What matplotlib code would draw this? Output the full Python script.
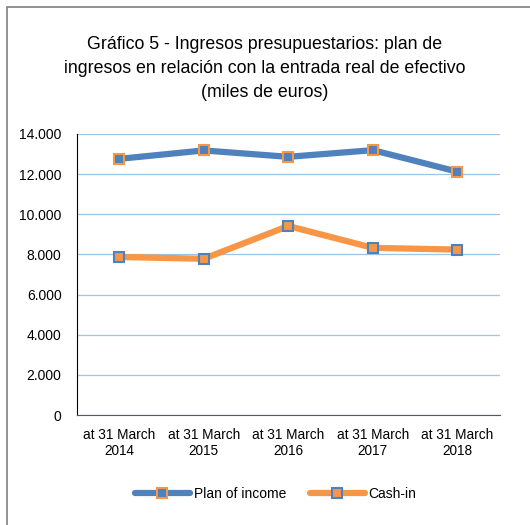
import matplotlib
matplotlib.use('Agg')
import matplotlib.pyplot as plt
from matplotlib.patches import Rectangle

categories = ['at 31 March\n2014', 'at 31 March\n2015', 'at 31 March\n2016',
              'at 31 March\n2017', 'at 31 March\n2018']
plan_of_income = [12756, 13175, 12857, 13190, 12116]
cash_in = [7870, 7780, 9412, 8323, 8237]
y_ticks = [0, 2000, 4000, 6000, 8000, 10000, 12000, 14000]
y_labels = ['0', '2.000', '4.000', '6.000', '8.000', '10.000', '12.000', '14.000']

blue = '#4f81bd'
orange = '#f79646'

plt.rcParams['font.family'] = ['Liberation Sans', 'DejaVu Sans']

fig = plt.figure(figsize=(5.3, 5.25), dpi=100)
ax = fig.add_axes([0.145, 0.2095, 0.798, 0.5355])

# outer chart border
fig.patches.append(Rectangle((7 / 530, -0.1), 1.2, 1 - 7 / 525 + 0.1, transform=fig.transFigure,
                             fill=False, edgecolor='#7f7f7f', linewidth=1.2))

x = range(len(categories))
ax.plot(x, plan_of_income, color=blue, linewidth=4.5, marker='s', markersize=7,
        markerfacecolor=blue, markeredgecolor=orange, markeredgewidth=1.5,
        label='Plan of income', solid_capstyle='round')
ax.plot(x, cash_in, color=orange, linewidth=4.5, marker='s', markersize=7,
        markerfacecolor=orange, markeredgecolor=blue, markeredgewidth=1.5,
        label='Cash-in', solid_capstyle='round')

ax.set_xlim(-0.5, len(categories) - 0.5)
ax.set_ylim(0, 14000)
ax.set_yticks(y_ticks)
ax.set_yticklabels(y_labels, fontsize=10)
ax.set_xticks(list(x))
ax.set_xticklabels(categories, fontsize=9.8, linespacing=1.25)
ax.tick_params(axis='x', length=0, pad=9)
ax.tick_params(axis='y', length=0, pad=11)
ax.grid(axis='y', color='#9dc3e6', linewidth=0.9)
ax.set_axisbelow(True)
for s in ['top', 'right']:
    ax.spines[s].set_visible(False)
ax.spines['left'].set_color('black')
ax.spines['bottom'].set_color('#595959')

fig.text(0.5, 0.932, 'Gráfico 5 - Ingresos presupuestarios: plan de\n'
         'ingresos en relación con la entrada real de efectivo\n(miles de euros)',
         ha='center', va='top', fontsize=12.8, linespacing=1.55)

fig.legend(loc='center', bbox_to_anchor=(0.52, 0.06), ncol=2, frameon=False,
           fontsize=10, handlelength=4.0, columnspacing=1.7, handletextpad=0.25)

fig.savefig('out.png', dpi=100, facecolor='white')
